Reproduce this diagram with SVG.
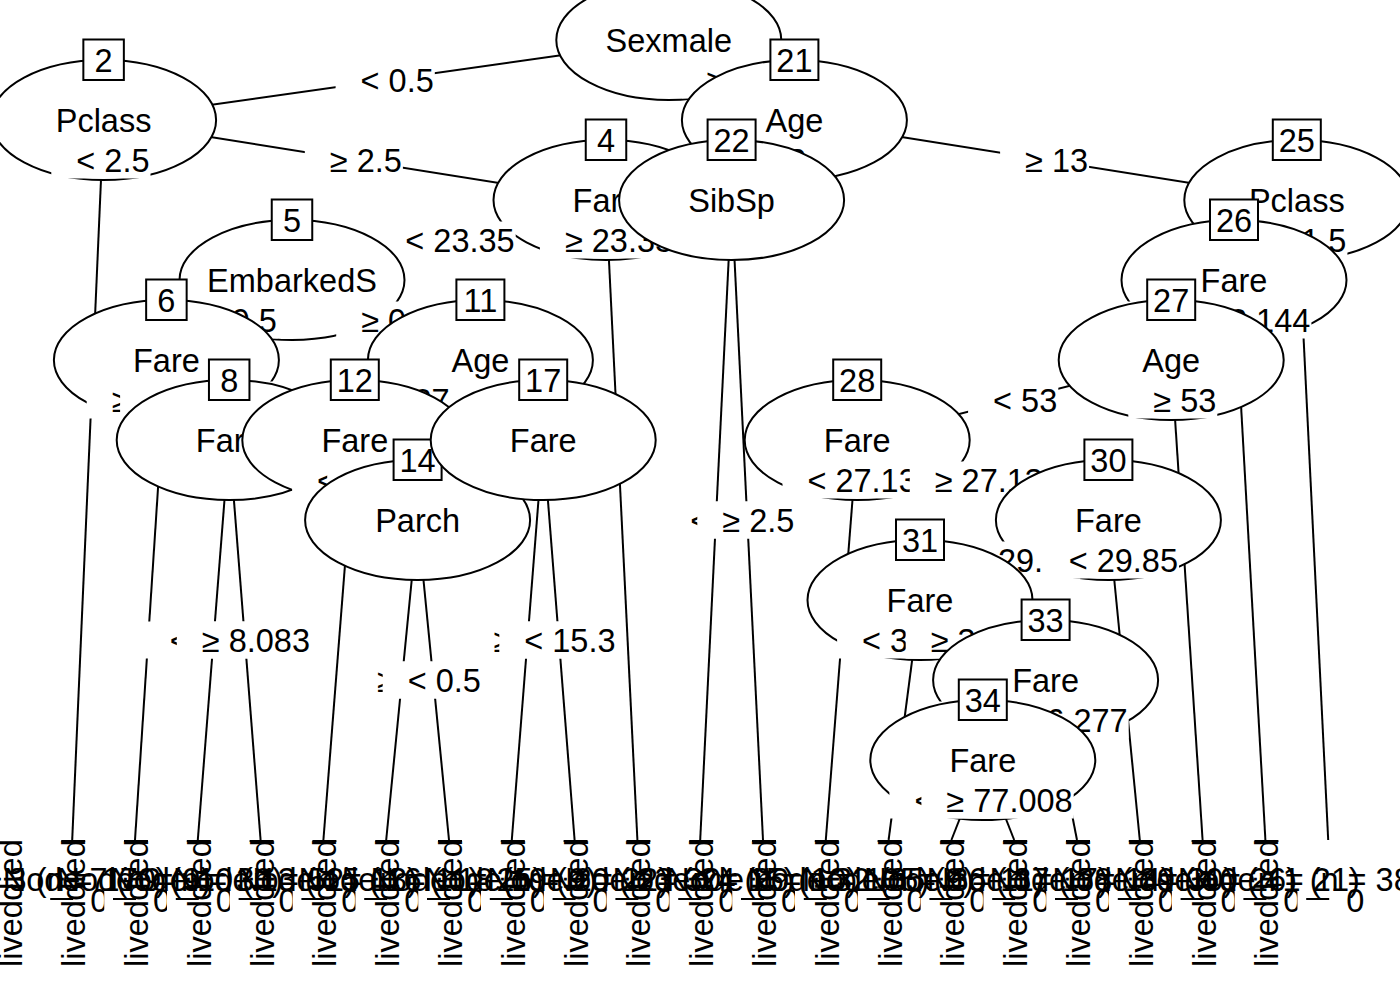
<svg xmlns="http://www.w3.org/2000/svg" width="1400" height="1000" viewBox="0 0 1400 1000">
<style>
text{font-family:"Liberation Sans",Arial,Helvetica,sans-serif;font-size:32.5px;fill:#000;text-anchor:middle}
.e{fill:#fff;stroke:#000;stroke-width:2}
.b{fill:#fff;stroke:#000;stroke-width:2}
.w{fill:#fff;stroke:none}
line{stroke:#000;stroke-width:2}
.z{clip-path:url(#half)}
</style>
<defs>
<clipPath id="half" clipPathUnits="objectBoundingBox"><rect x="0" y="0" width="0.78" height="1"/></clipPath>
</defs>
<rect x="0" y="0" width="1400" height="1000" fill="#fff"/>
<g id="connectors">
<line x1="668.8" y1="40" x2="103.6" y2="120"/>
<line x1="668.8" y1="40" x2="794.4" y2="120"/>
<line x1="103.6" y1="120" x2="72.2" y2="840"/>
<line x1="103.6" y1="120" x2="606" y2="200"/>
<line x1="606" y1="200" x2="292" y2="280"/>
<line x1="606" y1="200" x2="637.4" y2="840"/>
<line x1="292" y1="280" x2="166.4" y2="360"/>
<line x1="292" y1="280" x2="480.4" y2="360"/>
<line x1="166.4" y1="360" x2="135" y2="840"/>
<line x1="166.4" y1="360" x2="229.2" y2="440"/>
<line x1="229.2" y1="440" x2="197.8" y2="840"/>
<line x1="229.2" y1="440" x2="260.6" y2="840"/>
<line x1="480.4" y1="360" x2="354.8" y2="440"/>
<line x1="480.4" y1="360" x2="543.2" y2="440"/>
<line x1="354.8" y1="440" x2="323.4" y2="840"/>
<line x1="354.8" y1="440" x2="417.6" y2="520"/>
<line x1="417.6" y1="520" x2="386.2" y2="840"/>
<line x1="417.6" y1="520" x2="449" y2="840"/>
<line x1="543.2" y1="440" x2="511.8" y2="840"/>
<line x1="543.2" y1="440" x2="574.6" y2="840"/>
<line x1="794.4" y1="120" x2="731.6" y2="200"/>
<line x1="794.4" y1="120" x2="1296.8" y2="200"/>
<line x1="731.6" y1="200" x2="700.2" y2="840"/>
<line x1="731.6" y1="200" x2="763" y2="840"/>
<line x1="1296.8" y1="200" x2="1234" y2="280"/>
<line x1="1296.8" y1="200" x2="1328.2" y2="840"/>
<line x1="1234" y1="280" x2="1171.2" y2="360"/>
<line x1="1234" y1="280" x2="1265.4" y2="840"/>
<line x1="1171.2" y1="360" x2="857.2" y2="440"/>
<line x1="1171.2" y1="360" x2="1202.6" y2="840"/>
<line x1="857.2" y1="440" x2="825.8" y2="840"/>
<line x1="857.2" y1="440" x2="1108.4" y2="520"/>
<line x1="1108.4" y1="520" x2="920" y2="600"/>
<line x1="1108.4" y1="520" x2="1139.8" y2="840"/>
<line x1="920" y1="600" x2="888.6" y2="840"/>
<line x1="920" y1="600" x2="1045.6" y2="680"/>
<line x1="1045.6" y1="680" x2="982.8" y2="760"/>
<line x1="1045.6" y1="680" x2="1077" y2="840"/>
<line x1="982.8" y1="760" x2="951.4" y2="840"/>
<line x1="982.8" y1="760" x2="1014.2" y2="840"/>
</g>

<g id="node1">
<ellipse class="e" cx="668.8" cy="40" rx="112.5" ry="60"/>
<text x="668.8" y="52">Sexmale</text>
<rect class="w" x="335.6" y="61.5" width="99.2" height="37"/><text x="397.2" y="92">&lt; 0.5</text>
<rect class="w" x="681.6" y="61.5" width="98.1" height="37"/><text x="742.6" y="92">≥ 0.5</text>
</g>
<g id="node2">
<ellipse class="e" cx="103.6" cy="120" rx="112.5" ry="60"/>
<rect class="b" x="83.35" y="39.5" width="40.5" height="40.5"/>
<text x="103.6" y="72">2</text>
<text x="103.6" y="132">Pclass</text>
<rect class="w" x="51.3" y="141.5" width="99.2" height="37"/><text x="112.9" y="172">&lt; 2.5</text>
<rect class="w" x="304.8" y="141.5" width="98.1" height="37"/><text x="365.8" y="172">≥ 2.5</text>
</g>
<g id="node4">
<ellipse class="e" cx="606" cy="200" rx="112.5" ry="60"/>
<rect class="b" x="585.75" y="119.5" width="40.5" height="40.5"/>
<text x="606" y="152">4</text>
<text x="606" y="212">Fare</text>
<rect class="w" x="380.4" y="221.5" width="135.3" height="37"/><text x="460" y="252">&lt; 23.35</text>
<rect class="w" x="539.9" y="221.5" width="134.2" height="37"/><text x="619" y="252">≥ 23.35</text>
</g>
<g id="node5">
<ellipse class="e" cx="292" cy="280" rx="112.5" ry="60"/>
<rect class="b" x="271.75" y="199.5" width="40.5" height="40.5"/>
<text x="292" y="232">5</text>
<text x="292" y="292">EmbarkedS</text>
<rect class="w" x="178.6" y="301.5" width="99.2" height="37"/><text x="240.2" y="332">&lt; 0.5</text>
<rect class="w" x="336.2" y="301.5" width="98.1" height="37"/><text x="397.2" y="332">≥ 0.5</text>
</g>
<g id="node6">
<ellipse class="e" cx="166.4" cy="360" rx="112.5" ry="60"/>
<rect class="b" x="146.15" y="279.5" width="40.5" height="40.5"/>
<text x="166.4" y="312">6</text>
<text x="166.4" y="372">Fare</text>
<rect class="w" x="86.7" y="381.5" width="152.3" height="37"/><text x="174.8" y="412">≥ 10.481</text>
<rect class="w" x="120.1" y="381.5" width="153.4" height="37"/><text x="208.8" y="412">&lt; 10.481</text>
</g>
<g id="node8">
<ellipse class="e" cx="229.2" cy="440" rx="112.5" ry="60"/>
<rect class="b" x="208.95" y="359.5" width="40.5" height="40.5"/>
<text x="229.2" y="392">8</text>
<text x="229.2" y="452">Fare</text>
<rect class="w" x="144.9" y="621.5" width="135.3" height="37"/><text x="224.5" y="652">&lt; 8.083</text>
<rect class="w" x="176.8" y="621.5" width="134.2" height="37"/><text x="255.9" y="652">≥ 8.083</text>
</g>
<g id="node11">
<ellipse class="e" cx="480.4" cy="360" rx="112.5" ry="60"/>
<rect class="b" x="456.4" y="279.5" width="48" height="40.5"/>
<text x="480.4" y="312">11</text>
<text x="480.4" y="372">Age</text>
<rect class="w" x="361.6" y="381.5" width="116.1" height="37"/><text x="431.6" y="412">≥ 27.5</text>
<rect class="w" x="452.2" y="381.5" width="117.3" height="37"/><text x="522.8" y="412">&lt; 27.5</text>
</g>
<g id="node12">
<ellipse class="e" cx="354.8" cy="440" rx="112.5" ry="60"/>
<rect class="b" x="330.8" y="359.5" width="48" height="40.5"/>
<text x="354.8" y="392">12</text>
<text x="354.8" y="452">Fare</text>
<rect class="w" x="292.1" y="461.5" width="117.3" height="37"/><text x="362.7" y="492">&lt; 7.91</text>
<rect class="w" x="327.2" y="461.5" width="116.1" height="37"/><text x="397.2" y="492">≥ 7.91</text>
</g>
<g id="node14">
<ellipse class="e" cx="417.6" cy="520" rx="112.5" ry="60"/>
<rect class="b" x="393.6" y="439.5" width="48" height="40.5"/>
<text x="417.6" y="472">14</text>
<text x="417.6" y="532">Parch</text>
<rect class="w" x="351.9" y="661.5" width="98.1" height="37"/><text x="412.9" y="692">≥ 0.5</text>
<rect class="w" x="382.7" y="661.5" width="99.2" height="37"/><text x="444.3" y="692">&lt; 0.5</text>
</g>
<g id="node17">
<ellipse class="e" cx="543.2" cy="440" rx="112.5" ry="60"/>
<rect class="b" x="519.2" y="359.5" width="48" height="40.5"/>
<text x="543.2" y="392">17</text>
<text x="543.2" y="452">Fare</text>
<rect class="w" x="468.5" y="621.5" width="116.1" height="37"/><text x="538.5" y="652">≥ 15.3</text>
<rect class="w" x="499.3" y="621.5" width="117.3" height="37"/><text x="569.9" y="652">&lt; 15.3</text>
</g>
<g id="node21">
<ellipse class="e" cx="794.4" cy="120" rx="112.5" ry="60"/>
<rect class="b" x="770.4" y="39.5" width="48" height="40.5"/>
<text x="794.4" y="72">21</text>
<text x="794.4" y="132">Age</text>
<rect class="w" x="716.9" y="141.5" width="90.2" height="37"/><text x="774" y="172">&lt; 13</text>
<rect class="w" x="1000.1" y="141.5" width="89" height="37"/><text x="1056.6" y="172">≥ 13</text>
</g>
<g id="node22">
<ellipse class="e" cx="731.6" cy="200" rx="112.5" ry="60"/>
<rect class="b" x="707.6" y="119.5" width="48" height="40.5"/>
<text x="731.6" y="152">22</text>
<text x="731.6" y="212">SibSp</text>
<rect class="w" x="665.3" y="501.5" width="99.2" height="37"/><text x="726.9" y="532">&lt; 2.5</text>
<rect class="w" x="697.3" y="501.5" width="98.1" height="37"/><text x="758.3" y="532">≥ 2.5</text>
</g>
<g id="node25">
<ellipse class="e" cx="1296.8" cy="200" rx="112.5" ry="60"/>
<rect class="b" x="1272.8" y="119.5" width="48" height="40.5"/>
<text x="1296.8" y="152">25</text>
<text x="1296.8" y="212">Pclass</text>
<rect class="w" x="1215.4" y="221.5" width="98.1" height="37"/><text x="1276.4" y="252">≥ 1.5</text>
<rect class="w" x="1248.2" y="221.5" width="99.2" height="37"/><text x="1309.8" y="252">&lt; 1.5</text>
</g>
<g id="node26">
<ellipse class="e" cx="1234" cy="280" rx="112.5" ry="60"/>
<rect class="b" x="1210" y="199.5" width="48" height="40.5"/>
<text x="1234" y="232">26</text>
<text x="1234" y="292">Fare</text>
<rect class="w" x="1124.9" y="301.5" width="153.4" height="37"/><text x="1213.6" y="332">&lt; 52.144</text>
<rect class="w" x="1159.1" y="301.5" width="152.3" height="37"/><text x="1247.2" y="332">≥ 52.144</text>
</g>
<g id="node27">
<ellipse class="e" cx="1171.2" cy="360" rx="112.5" ry="60"/>
<rect class="b" x="1147.2" y="279.5" width="48" height="40.5"/>
<text x="1171.2" y="312">27</text>
<text x="1171.2" y="372">Age</text>
<rect class="w" x="968.1" y="381.5" width="90.2" height="37"/><text x="1025.2" y="412">&lt; 53</text>
<rect class="w" x="1128.3" y="381.5" width="89" height="37"/><text x="1184.8" y="412">≥ 53</text>
</g>
<g id="node28">
<ellipse class="e" cx="857.2" cy="440" rx="112.5" ry="60"/>
<rect class="b" x="833.2" y="359.5" width="48" height="40.5"/>
<text x="857.2" y="392">28</text>
<text x="857.2" y="452">Fare</text>
<rect class="w" x="782.5" y="461.5" width="135.3" height="37"/><text x="862.1" y="492">&lt; 27.13</text>
<rect class="w" x="909.7" y="461.5" width="134.2" height="37"/><text x="988.8" y="492">≥ 27.13</text>
</g>
<g id="node30">
<ellipse class="e" cx="1108.4" cy="520" rx="112.5" ry="60"/>
<rect class="b" x="1084.4" y="439.5" width="48" height="40.5"/>
<text x="1108.4" y="472">30</text>
<text x="1108.4" y="532">Fare</text>
<rect class="w" x="946.1" y="541.5" width="134.2" height="37"/><text x="1025.2" y="572">≥ 29.85</text>
<rect class="w" x="1043.7" y="541.5" width="135.3" height="37"/><text x="1123.3" y="572">&lt; 29.85</text>
</g>
<g id="node31">
<ellipse class="e" cx="920" cy="600" rx="112.5" ry="60"/>
<rect class="b" x="896" y="519.5" width="48" height="40.5"/>
<text x="920" y="552">31</text>
<text x="920" y="612">Fare</text>
<rect class="w" x="837.1" y="621.5" width="153.4" height="37"/><text x="925.8" y="652">&lt; 31.331</text>
<rect class="w" x="905.7" y="621.5" width="152.3" height="37"/><text x="993.8" y="652">≥ 31.331</text>
</g>
<g id="node33">
<ellipse class="e" cx="1045.6" cy="680" rx="112.5" ry="60"/>
<rect class="b" x="1021.6" y="599.5" width="48" height="40.5"/>
<text x="1045.6" y="632">33</text>
<text x="1045.6" y="692">Fare</text>
<rect class="w" x="936.5" y="701.5" width="153.4" height="37"/><text x="1025.2" y="732">&lt; 26.277</text>
<rect class="w" x="976.4" y="701.5" width="152.3" height="37"/><text x="1064.5" y="732">≥ 26.277</text>
</g>
<g id="node34">
<ellipse class="e" cx="982.8" cy="760" rx="112.5" ry="60"/>
<rect class="b" x="958.8" y="679.5" width="48" height="40.5"/>
<text x="982.8" y="712">34</text>
<text x="982.8" y="772">Fare</text>
<rect class="w" x="889.4" y="781.5" width="153.4" height="37"/><text x="978.1" y="812">&lt; 77.008</text>
<rect class="w" x="921.4" y="781.5" width="152.3" height="37"/><text x="1009.5" y="812">≥ 77.008</text>
</g>

<g id="node3"><line x1="61.2" y1="841" x2="85.2" y2="841"/><text transform="translate(22.4,870) rotate(-90)">died</text><text transform="translate(22.4,933.5) rotate(-90)">lived</text><text x="44.2" y="891">Node 3 (n = 170)</text><line x1="50.2" y1="899" x2="73.2" y2="899"/><text class="z" x="99.2" y="912">0</text></g>
<g id="node7"><line x1="124" y1="841" x2="148" y2="841"/><text transform="translate(85.2,870) rotate(-90)">died</text><text transform="translate(85.2,933.5) rotate(-90)">lived</text><text x="107" y="891">Node 7 (n = 9)</text><line x1="113" y1="899" x2="136" y2="899"/><text class="z" x="162" y="912">0</text></g>
<g id="node9"><line x1="186.8" y1="841" x2="210.8" y2="841"/><text transform="translate(148,870) rotate(-90)">died</text><text transform="translate(148,933.5) rotate(-90)">lived</text><text x="169.8" y="891">Node 9 (n = 30)</text><line x1="175.8" y1="899" x2="198.8" y2="899"/><text class="z" x="224.8" y="912">0</text></g>
<g id="node10"><line x1="249.6" y1="841" x2="273.6" y2="841"/><text transform="translate(210.8,870) rotate(-90)">died</text><text transform="translate(210.8,933.5) rotate(-90)">lived</text><text x="232.6" y="891">Node 10 (n = 52)</text><line x1="238.6" y1="899" x2="261.6" y2="899"/><text class="z" x="287.6" y="912">0</text></g>
<g id="node13"><line x1="312.4" y1="841" x2="336.4" y2="841"/><text transform="translate(273.6,870) rotate(-90)">died</text><text transform="translate(273.6,933.5) rotate(-90)">lived</text><text x="295.4" y="891">Node 13 (n = 13)</text><line x1="301.4" y1="899" x2="324.4" y2="899"/><text class="z" x="350.4" y="912">0</text></g>
<g id="node15"><line x1="375.2" y1="841" x2="399.2" y2="841"/><text transform="translate(336.4,870) rotate(-90)">died</text><text transform="translate(336.4,933.5) rotate(-90)">lived</text><text x="358.2" y="891">Node 15 (n = 11)</text><line x1="364.2" y1="899" x2="387.2" y2="899"/><text class="z" x="413.2" y="912">0</text></g>
<g id="node16"><line x1="438" y1="841" x2="462" y2="841"/><text transform="translate(399.2,870) rotate(-90)">died</text><text transform="translate(399.2,933.5) rotate(-90)">lived</text><text x="421" y="891">Node 16 (n = 25)</text><line x1="427" y1="899" x2="450" y2="899"/><text class="z" x="476" y="912">0</text></g>
<g id="node18"><line x1="500.8" y1="841" x2="524.8" y2="841"/><text transform="translate(462,870) rotate(-90)">died</text><text transform="translate(462,933.5) rotate(-90)">lived</text><text x="483.8" y="891">Node 18 (n = 9)</text><line x1="489.8" y1="899" x2="512.8" y2="899"/><text class="z" x="538.8" y="912">0</text></g>
<g id="node19"><line x1="563.6" y1="841" x2="587.6" y2="841"/><text transform="translate(524.8,870) rotate(-90)">died</text><text transform="translate(524.8,933.5) rotate(-90)">lived</text><text x="546.6" y="891">Node 19 (n = 22)</text><line x1="552.6" y1="899" x2="575.6" y2="899"/><text class="z" x="601.6" y="912">0</text></g>
<g id="node20"><line x1="626.4" y1="841" x2="650.4" y2="841"/><text transform="translate(587.6,870) rotate(-90)">died</text><text transform="translate(587.6,933.5) rotate(-90)">lived</text><text x="609.4" y="891">Node 20 (n = 30)</text><line x1="615.4" y1="899" x2="638.4" y2="899"/><text class="z" x="664.4" y="912">0</text></g>
<g id="node23"><line x1="689.2" y1="841" x2="713.2" y2="841"/><text transform="translate(650.4,870) rotate(-90)">died</text><text transform="translate(650.4,933.5) rotate(-90)">lived</text><text x="672.2" y="891">Node 23 (n = 15)</text><line x1="678.2" y1="899" x2="701.2" y2="899"/><text class="z" x="727.2" y="912">0</text></g>
<g id="node24"><line x1="752" y1="841" x2="776" y2="841"/><text transform="translate(713.2,870) rotate(-90)">died</text><text transform="translate(713.2,933.5) rotate(-90)">lived</text><text x="735" y="891">Node 24 (n = 10)</text><line x1="741" y1="899" x2="764" y2="899"/><text class="z" x="790" y="912">0</text></g>
<g id="node29"><line x1="814.8" y1="841" x2="838.8" y2="841"/><text transform="translate(776,870) rotate(-90)">died</text><text transform="translate(776,933.5) rotate(-90)">lived</text><text x="797.8" y="891">Node 29 (n = 105)</text><line x1="803.8" y1="899" x2="826.8" y2="899"/><text class="z" x="852.8" y="912">0</text></g>
<g id="node32"><line x1="877.6" y1="841" x2="901.6" y2="841"/><text transform="translate(838.8,870) rotate(-90)">died</text><text transform="translate(838.8,933.5) rotate(-90)">lived</text><text x="860.6" y="891">Node 32 (n = 9)</text><line x1="866.6" y1="899" x2="889.6" y2="899"/><text class="z" x="915.6" y="912">0</text></g>
<g id="node35"><line x1="940.4" y1="841" x2="964.4" y2="841"/><text transform="translate(901.6,870) rotate(-90)">died</text><text transform="translate(901.6,933.5) rotate(-90)">lived</text><text x="923.4" y="891">Node 35 (n = 11)</text><line x1="929.4" y1="899" x2="952.4" y2="899"/><text class="z" x="978.4" y="912">0</text></g>
<g id="node36"><line x1="1003.2" y1="841" x2="1027.2" y2="841"/><text transform="translate(964.4,870) rotate(-90)">died</text><text transform="translate(964.4,933.5) rotate(-90)">lived</text><text x="986.2" y="891">Node 36 (n = 17)</text><line x1="992.2" y1="899" x2="1015.2" y2="899"/><text class="z" x="1041.2" y="912">0</text></g>
<g id="node37"><line x1="1066" y1="841" x2="1090" y2="841"/><text transform="translate(1027.2,870) rotate(-90)">died</text><text transform="translate(1027.2,933.5) rotate(-90)">lived</text><text x="1049" y="891">Node 37 (n = 14)</text><line x1="1055" y1="899" x2="1078" y2="899"/><text class="z" x="1104" y="912">0</text></g>
<g id="node38"><line x1="1128.8" y1="841" x2="1152.8" y2="841"/><text transform="translate(1090,870) rotate(-90)">died</text><text transform="translate(1090,933.5) rotate(-90)">lived</text><text x="1111.8" y="891">Node 38 (n = 30)</text><line x1="1117.8" y1="899" x2="1140.8" y2="899"/><text class="z" x="1166.8" y="912">0</text></g>
<g id="node39"><line x1="1191.6" y1="841" x2="1215.6" y2="841"/><text transform="translate(1152.8,870) rotate(-90)">died</text><text transform="translate(1152.8,933.5) rotate(-90)">lived</text><text x="1174.6" y="891">Node 39 (n = 26)</text><line x1="1180.6" y1="899" x2="1203.6" y2="899"/><text class="z" x="1229.6" y="912">0</text></g>
<g id="node40"><line x1="1254.4" y1="841" x2="1278.4" y2="841"/><text transform="translate(1215.6,870) rotate(-90)">died</text><text transform="translate(1215.6,933.5) rotate(-90)">lived</text><text x="1237.4" y="891">Node 40 (n = 21)</text><line x1="1243.4" y1="899" x2="1266.4" y2="899"/><text class="z" x="1292.4" y="912">0</text></g>
<g id="node41"><text transform="translate(1278.4,870) rotate(-90)">died</text><text transform="translate(1278.4,933.5) rotate(-90)">lived</text><text x="1300.2" y="891">Node 41 (n = 38)</text><line x1="1306.2" y1="899" x2="1329.2" y2="899"/><text x="1355.2" y="912">0</text></g>
</svg>
